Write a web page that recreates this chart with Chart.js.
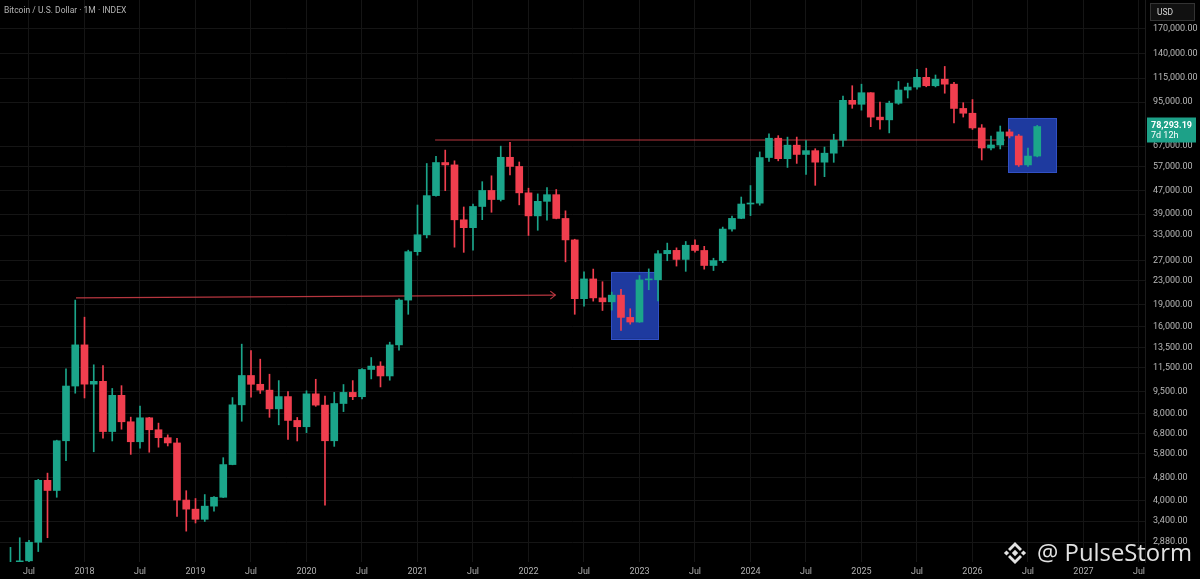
<!DOCTYPE html>
<html>
<head>
<meta charset="utf-8">
<script src="https://cdn.jsdelivr.net/npm/chart.js@4.4.1/dist/chart.umd.min.js"></script>
<style>
  html, body { margin: 0; padding: 0; background: #000; }
  #wrap { width: 1200px; height: 579px; }
</style>
</head>
<body>
<div id="wrap"><canvas id="chart" width="1200" height="579"></canvas></div>
<script>
// monthly candles, May 2017 .. Aug 2026
const months = [
  '2017-05','2017-06','2017-07','2017-08','2017-09','2017-10','2017-11','2017-12',
  '2018-01','2018-02','2018-03','2018-04','2018-05','2018-06','2018-07','2018-08','2018-09','2018-10','2018-11','2018-12',
  '2019-01','2019-02','2019-03','2019-04','2019-05','2019-06','2019-07','2019-08','2019-09','2019-10','2019-11','2019-12',
  '2020-01','2020-02','2020-03','2020-04','2020-05','2020-06','2020-07','2020-08','2020-09','2020-10','2020-11','2020-12',
  '2021-01','2021-02','2021-03','2021-04','2021-05','2021-06','2021-07','2021-08','2021-09','2021-10','2021-11','2021-12',
  '2022-01','2022-02','2022-03','2022-04','2022-05','2022-06','2022-07','2022-08','2022-09','2022-10','2022-11','2022-12',
  '2023-01','2023-02','2023-03','2023-04','2023-05','2023-06','2023-07','2023-08','2023-09','2023-10','2023-11','2023-12',
  '2024-01','2024-02','2024-03','2024-04','2024-05','2024-06','2024-07','2024-08','2024-09','2024-10','2024-11','2024-12',
  '2025-01','2025-02','2025-03','2025-04','2025-05','2025-06','2025-07','2025-08','2025-09','2025-10','2025-11','2025-12',
  '2026-01','2026-02','2026-03','2026-04','2026-05','2026-06','2026-07','2026-08'
];

const opens = [
  1350, 2300, 2480, 2875, 4703, 4338, 6440, 9950,
  13800, 10100, 10330, 6930, 9240, 7490, 6390, 7730, 7030, 6600, 6330, 4020,
  3740, 3450, 3830, 4110, 5330, 8570, 10820, 10090, 9630, 8300, 9150, 7570,
  7200, 9350, 8550, 6440, 8660, 9460, 9140, 11350, 11660, 10780, 13800, 19700,
  28950, 33110, 45200, 58800, 57700, 37300, 35040, 41460, 47100, 43820, 61300, 57000,
  46210, 38480, 43190, 45540, 37700, 31790, 19930, 23310, 20050, 19430, 20490, 17170,
  16550, 23130, 23150, 28480, 29250, 27220, 30470, 29230, 25940, 26970, 34650, 37720,
  42280, 42580, 61180, 71330, 60640, 67490, 62700, 64620, 58970, 63330, 70220, 96410,
  93430, 102410, 84350, 82550, 94210, 104640, 107140, 115760, 108250, 114050, 109610, 90390,
  87000, 77400, 66000, 67600, 75000, 72600, 57700, 61900
];
const highs = [
  2760, 2980, 2920, 4740, 4980, 6470, 11400, 19700,
  17200, 11780, 11700, 9760, 9980, 7770, 8490, 7760, 7410, 6750, 6570, 4330,
  4070, 4200, 4130, 5630, 9080, 13880, 13190, 12320, 10930, 10390, 9520, 7750,
  9580, 10500, 9190, 9460, 10070, 10390, 11440, 12480, 12070, 14100, 19920, 29300,
  41950, 58350, 61780, 64900, 59600, 41300, 42300, 50500, 52900, 66970, 69000, 59050,
  47950, 45820, 48190, 47440, 40050, 31960, 24670, 25210, 22800, 20990, 21480, 18390,
  23950, 25250, 29190, 30990, 29840, 31390, 31820, 30210, 27480, 35200, 38420, 44700,
  48970, 63970, 73800, 72800, 71950, 71980, 70010, 65620, 66500, 73620, 99650, 108270,
  109590, 102500, 95040, 95760, 111970, 110530, 123220, 124460, 117900, 126200, 111200, 94600,
  97000, 79500, 72500, 78600, 76500, 73500, 66000, 79000
];
const lows = [
  1350, 2080, 1840, 2670, 2980, 4110, 5500, 9400,
  9050, 5900, 6580, 6430, 7060, 5780, 6070, 5880, 6120, 6180, 3530, 3140,
  3350, 3390, 3680, 4100, 5320, 7520, 9110, 9380, 7760, 7310, 6510, 6430,
  6870, 8470, 3860, 6160, 8120, 8930, 8980, 10530, 9880, 10420, 13220, 17600,
  28150, 32300, 45000, 47000, 30000, 28800, 29300, 37330, 39600, 43300, 53260, 42000,
  32930, 34320, 37180, 37580, 26700, 17600, 18780, 19540, 18140, 18190, 15480, 16270,
  16500, 21390, 19570, 26940, 25820, 24760, 28860, 25190, 24920, 26540, 34100, 37620,
  38560, 41880, 59320, 59600, 56550, 58400, 53500, 49050, 52550, 58900, 66800, 90500,
  89160, 78200, 76600, 74420, 93370, 98200, 105270, 107350, 107270, 102000, 80600, 84400,
  76500, 60000, 65000, 65500, 71500, 57000, 57000, 61500
];
const closes = [
  2300, 2480, 2875, 4703, 4338, 6440, 9950, 13800,
  10100, 10330, 6930, 9240, 7490, 6390, 7730, 7030, 6600, 6330, 4020, 3740,
  3450, 3830, 4110, 5330, 8570, 10820, 10090, 9630, 8300, 9150, 7570, 7200,
  9350, 8550, 6440, 8660, 9460, 9140, 11350, 11660, 10780, 13800, 19700, 28950,
  33110, 45200, 58800, 57700, 37300, 35040, 41460, 47100, 43820, 61300, 57000, 46210,
  38480, 43190, 45540, 37700, 31790, 19930, 23310, 20050, 19430, 20490, 17170, 16550,
  23130, 23150, 28480, 29250, 27220, 30470, 29230, 25940, 26970, 34650, 37720, 42280,
  42580, 61180, 71330, 60640, 67490, 62700, 64620, 58970, 63330, 70220, 96410, 93430,
  102410, 84350, 82550, 94210, 104640, 107140, 115760, 108250, 114050, 109610, 90390, 87000,
  77400, 66000, 67600, 75000, 72600, 57700, 61900, 78293.19
];

// axis ticks (x = index into months, extended to Jul 2027)
const xTickIdx = [2, 8, 14, 20, 26, 32, 38, 44, 50, 56, 62, 68, 74, 80, 86, 92, 98, 104, 110, 116, 122];
const xTickLabels = ['Jul','2018','Jul','2019','Jul','2020','Jul','2021','Jul','2022','Jul',
  '2023','Jul','2024','Jul','2025','Jul','2026','Jul','2027','Jul'];
const yTicks = [170000, 140000, 115000, 95000, 67000, 57000, 47000, 39000, 33000, 27000, 23000,
  19000, 16000, 13500, 11500, 9500, 8000, 6800, 5800, 4800, 4000, 3400, 2880];

// drawings
const arrowX = [7.08, 58.9];
const arrowY = [20050, 20500];
const levelX = [45.9, 107.5];
const levelY = [70300, 70300];
const boxFrom = [64.92, 107.84];
const boxTo = [70.0, 113.03];
const boxHigh = [24650, 83800];
const boxLow = [14470, 54500];

const UP = '#1ba58a';
const DOWN = '#f03e4e';
const LINE_RED = 'rgba(214, 64, 74, 0.85)';

const candleColors = closes.map((c, i) => (c >= opens[i] ? UP : DOWN));
const bodies = months.map((m, i) => ({ x: i, y: [opens[i], closes[i]] }));
const wicks = months.map((m, i) => ({ x: i, y: [lows[i], highs[i]] }));

function fmt(v) {
  return Number(v).toLocaleString('en-US', { minimumFractionDigits: 2, maximumFractionDigits: 2 });
}

const decor = {
  id: 'decor',
  beforeDraw(chart) {
    const ctx = chart.ctx;
    ctx.save();
    ctx.fillStyle = '#000';
    ctx.fillRect(0, 0, chart.width, chart.height);
    ctx.restore();
  },
  beforeDatasetsDraw(chart) {
    const ctx = chart.ctx;
    const xs = chart.scales.x, ys = chart.scales.y;
    ctx.save();
    for (let i = 0; i < boxFrom.length; i++) {
      const x1 = xs.getPixelForValue(boxFrom[i]);
      const x2 = xs.getPixelForValue(boxTo[i]);
      const y1 = ys.getPixelForValue(boxHigh[i]);
      const y2 = ys.getPixelForValue(boxLow[i]);
      ctx.fillStyle = '#1e3a9f';
      ctx.fillRect(x1, y1, x2 - x1, y2 - y1);
      ctx.strokeStyle = '#3150c4';
      ctx.lineWidth = 1;
      ctx.strokeRect(Math.round(x1) + 0.5, Math.round(y1) + 0.5, Math.round(x2 - x1), Math.round(y2 - y1));
    }
    ctx.restore();
  },
  afterDatasetsDraw(chart) {
    // arrow head at end of the 2017 line
    const ctx = chart.ctx;
    const xs = chart.scales.x, ys = chart.scales.y;
    const ex = xs.getPixelForValue(arrowX[1]);
    const ey = ys.getPixelForValue(arrowY[1]);
    ctx.save();
    ctx.strokeStyle = LINE_RED;
    ctx.lineWidth = 1.2;
    ctx.beginPath();
    ctx.moveTo(ex - 5, ey - 4);
    ctx.lineTo(ex, ey);
    ctx.lineTo(ex - 5, ey + 4);
    ctx.stroke();
    ctx.restore();
  },
  afterDraw(chart) {
    const ctx = chart.ctx;
    const ys = chart.scales.y;
    ctx.save();

    // title
    ctx.fillStyle = '#b4b4b4';
    ctx.font = '8.5px Roboto';
    ctx.textBaseline = 'middle';
    ctx.textAlign = 'left';
    ctx.fillText('Bitcoin / U.S. Dollar \u00b7 1M \u00b7 INDEX', 4, 11);

    // currency box
    ctx.fillStyle = '#111';
    ctx.fillRect(1150, 3, 45, 18);
    ctx.strokeStyle = '#333';
    ctx.strokeRect(1150.5, 3.5, 44, 17);
    ctx.fillStyle = '#d8d8d8';
    ctx.font = '8.5px Roboto';
    ctx.fillText('USD', 1157, 12.5);

    // last price label
    const last = closes[closes.length - 1];
    const py = ys.getPixelForValue(last);
    ctx.fillStyle = '#1da188';
    ctx.fillRect(1147, py - 9, 49, 25);
    ctx.fillStyle = '#fff';
    ctx.font = 'bold 9px Roboto';
    ctx.fillText(fmt(last), 1151, py - 1);
    ctx.font = '9px Roboto';
    ctx.fillText('7d 12h', 1151, py + 9.5);

    // watermark
    const cx = 1015, cy = 553;
    ctx.fillStyle = '#e2e2e2';
    const diamond = (x, y, r) => {
      ctx.beginPath();
      ctx.moveTo(x, y - r); ctx.lineTo(x + r, y); ctx.lineTo(x, y + r); ctx.lineTo(x - r, y);
      ctx.closePath(); ctx.fill();
    };
    diamond(cx, cy, 3.2);
    diamond(cx - 8.5, cy, 2.6);
    diamond(cx + 8.5, cy, 2.6);
    ctx.beginPath();
    ctx.moveTo(cx, cy - 11); ctx.lineTo(cx + 7, cy - 4); ctx.lineTo(cx + 5, cy - 2);
    ctx.lineTo(cx, cy - 7); ctx.lineTo(cx - 5, cy - 2); ctx.lineTo(cx - 7, cy - 4);
    ctx.closePath(); ctx.fill();
    ctx.beginPath();
    ctx.moveTo(cx, cy + 11); ctx.lineTo(cx + 7, cy + 4); ctx.lineTo(cx + 5, cy + 2);
    ctx.lineTo(cx, cy + 7); ctx.lineTo(cx - 5, cy + 2); ctx.lineTo(cx - 7, cy + 4);
    ctx.closePath(); ctx.fill();
    ctx.font = '24px "Open Sans"';
    ctx.textBaseline = 'alphabetic';
    const wm = '@ PulseStorm';
    const w = ctx.measureText(wm).width;
    ctx.translate(1037, 561);
    ctx.scale(155 / w, 1);
    ctx.fillText(wm, 0, 0);

    ctx.restore();
  }
};

new Chart(document.getElementById('chart'), {
  type: 'bar',
  data: {
    datasets: [
      {
        label: 'body',
        data: bodies,
        backgroundColor: candleColors,
        borderWidth: 0,
        barThickness: 7,
        minBarLength: 1,
        grouped: false
      },
      {
        label: 'wick',
        data: wicks,
        backgroundColor: candleColors,
        borderWidth: 0,
        barThickness: 1,
        grouped: false
      },
      {
        type: 'line',
        label: 'arrow',
        data: arrowX.map((x, i) => ({ x: x, y: arrowY[i] })),
        borderColor: LINE_RED,
        borderWidth: 1.1,
        pointRadius: 0
      },
      {
        type: 'line',
        label: 'level',
        data: levelX.map((x, i) => ({ x: x, y: levelY[i] })),
        borderColor: LINE_RED,
        borderWidth: 1.1,
        pointRadius: 0
      }
    ]
  },
  options: {
    responsive: false,
    animation: false,
    layout: { padding: 0 },
    plugins: { legend: { display: false }, tooltip: { enabled: false } },
    scales: {
      x: {
        type: 'linear',
        min: -1.135,
        max: 122.65,
        bounds: 'data',
        offset: false,
        grid: { color: '#151515', offset: false, drawTicks: false },
        border: { display: false },
        ticks: {
          color: '#b0b0b0',
          font: { size: 9, family: 'Roboto' },
          padding: 4,
          maxRotation: 0,
          autoSkip: false,
          callback: (v, i) => xTickLabels[i]
        },
        afterBuildTicks: (s) => { s.ticks = xTickIdx.map(v => ({ value: v })); },
        afterFit: (s) => { s.height = 17; s.paddingLeft = 0; s.paddingRight = 0; }
      },
      y: {
        type: 'logarithmic',
        position: 'right',
        min: 2457,
        max: 214000,
        bounds: 'data',
        grid: { color: '#151515', drawTicks: false },
        border: { display: true, color: '#1c1c1c' },
        ticks: {
          color: '#b8b8b8',
          font: { size: 9, family: 'Roboto' },
          padding: 8,
          autoSkip: false,
          callback: (v) => fmt(v)
        },
        afterBuildTicks: (s) => { s.ticks = yTicks.map(v => ({ value: v })); },
        afterFit: (s) => { s.width = 55; s.paddingTop = 0; s.paddingBottom = 0; }
      }
    }
  },
  plugins: [decor]
});
</script>
</body>
</html>
